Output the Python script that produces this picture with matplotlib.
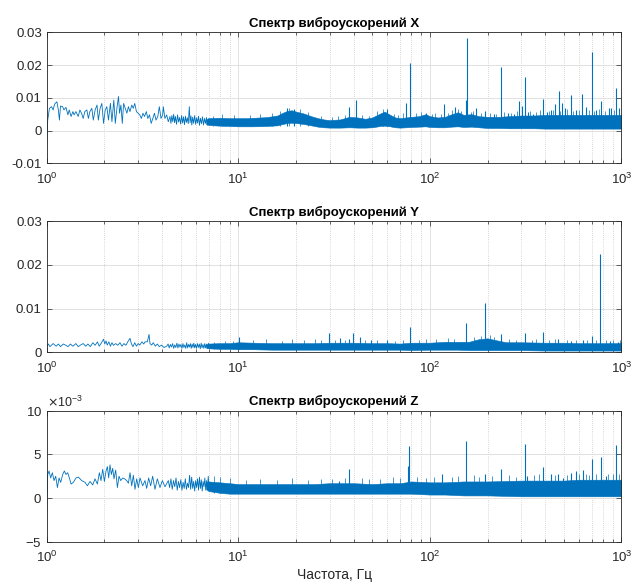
import numpy as np
import matplotlib
matplotlib.use('Agg')
import matplotlib.pyplot as plt
from matplotlib.ticker import LogLocator, FuncFormatter, NullFormatter, ScalarFormatter, FixedLocator

plt.rcParams['font.family'] = ['Liberation Sans', 'DejaVu Sans']
plt.rcParams['axes.unicode_minus'] = False

# все амплитуды в единицах 1e-3
# ---- канал X ----
x_lf_f = [1.000, 1.012, 1.033, 1.06, 1.08, 1.10, 1.13, 1.15, 1.165, 1.18, 1.21, 1.23, 1.26, 1.29, 1.31,
          1.34, 1.37, 1.39, 1.42, 1.46, 1.49, 1.52, 1.55, 1.58, 1.62, 1.65, 1.68, 1.72, 1.75, 1.79,
          1.83, 1.86, 1.90, 1.94, 1.98, 2.02, 2.06, 2.10, 2.15, 2.19, 2.24, 2.28, 2.33, 2.37, 2.40,
          2.44, 2.48, 2.52, 2.57, 2.62, 2.67, 2.72, 2.78, 2.83, 2.88, 2.94, 3.00, 3.06, 3.12, 3.18,
          3.24, 3.31, 3.37, 3.44, 3.51, 3.58, 3.65, 3.72, 3.80, 3.87, 3.95, 4.03, 4.06, 4.14, 4.23,
          4.31, 4.40, 4.45, 4.50, 4.55, 4.60, 4.65, 4.70, 4.76, 4.82, 4.88, 4.94, 5.00, 5.06, 5.12,
          5.18, 5.24, 5.30, 5.36, 5.42, 5.48, 5.55, 5.60, 5.66, 5.72, 5.78, 5.85, 5.92, 5.99, 6.06,
          6.13, 6.20, 6.27, 6.34, 6.42, 6.50, 6.58, 6.66, 6.74, 6.82, 6.90, 6.98, 7.06]
x_lf_a = [-3.9, 3.2, 6.8, 7.3, 6.3, 8.1, 8.8, 6.3, 3.2, 7.5, 7.3, 6.3, 7.1, 4.8, 6.3,
          4.3, 5.8, 4.8, 5.8, 4.3, 6.3, 5.3, 3.7, 5.8, 6.3, 3.7, 5.8, 6.8, 3.2, 6.3,
          7.8, 3.2, 6.8, 8.3, 2.2, 6.3, 7.3, 3.2, 8.3, 2.7, 9.3, 2.2, 7.3, 10.4, 5.3,
          7.8, 2.2, 8.3, 6.8, 5.3, 7.3, 5.8, 7.8, 6.8, 8.3, 5.8, 5.3, 4.8, 3.7, 5.3,
          4.3, 5.8, 3.7, 4.8, 2.2, 3.7, 5.3, 3.2, 4.3, 7.3, 3.7, 4.8, 7.3, 3.7, 4.8,
          2.7, 4.3, 2.2, 4.6, 2.7, 5.0, 2.4, 4.3, 1.9, 4.8, 2.6, 4.0, 2.0, 4.6, 2.3,
          4.2, 1.8, 4.4, 2.5, 3.9, 2.1, 7.3, 2.4, 4.5, 1.7, 4.1, 2.2, 4.6, 1.9, 3.9,
          2.3, 4.4, 1.6, 3.8, 2.1, 4.2, 1.7, 3.7, 2.2, 4.0, 1.6, 3.6, 2.0]
x_band_f = [6.8, 7, 8, 9, 10, 11, 12, 14, 16, 17, 18, 19, 20, 22, 24, 26, 28, 30,
            34, 38, 42, 46, 50, 55, 58, 62, 66, 70, 75, 80, 88, 95, 100, 110, 120, 130, 140, 150,
            165, 180, 200, 230, 260, 300, 350, 400, 500, 600, 700, 800, 900, 1000]
x_band_lo = [2.0, 1.7, 1.5, 1.4, 1.3, 1.3, 1.3, 1.4, 1.6, 2.0, 2.3, 2.4, 2.3, 2.0,
             1.6, 1.2, 1.0, 0.9, 0.9, 1.0, 0.9, 0.9, 1.0, 1.4, 1.5, 1.3, 1.0, 0.9, 1.0, 1.1, 1.2, 1.3,
             1.1, 1.0, 1.0, 1.2, 1.3, 1.1, 1.2, 1.0, 0.8, 0.8, 0.7, 0.7, 0.7, 0.6, 0.6, 0.6, 0.6, 0.6,
             0.6, 0.6]
x_band_hi = [3.4, 3.8, 3.9, 3.8, 3.8, 3.8, 3.9, 4.1, 4.6, 5.4, 6.0, 6.2, 5.8, 5.2,
             4.4, 3.8, 3.4, 3.2, 3.4, 4.2, 4.0, 3.6, 4.0, 5.2, 5.8, 4.8, 4.0, 3.8, 4.0, 4.2, 4.4, 5.0,
             4.4, 4.0, 4.2, 5.0, 5.6, 4.8, 5.0, 4.4, 4.2, 4.2, 4.4, 4.6, 4.6, 4.8, 4.8, 4.8, 4.8, 4.8,
             4.8, 4.8]
x_pk_f = [17.9, 19.5, 37.8, 41.1, 59.4, 75.5, 78.3, 96, 119, 136, 155, 157, 175, 194, 215, 234,
          257, 274, 293, 304, 313, 325, 347, 389, 409, 429, 452, 470, 490, 508, 548, 582, 625, 656,
          705, 740, 785, 860, 886, 940, 970]
x_pk_a = [6.8, 6.5, 7.2, 9.3, 6.6, 8.4, 20.7, 5.3, 8.1, 7.2, 9.3, 28.2, 6.9, 6.0, 5.0, 19.3,
          5.3, 5.0, 9.1, 7.6, 16.3, 5.7, 5.0, 9.6, 5.8, 6.3, 8.0, 12.1, 8.5, 6.8, 10.9, 6.3, 11.2, 7.3,
          23.9, 6.3, 9.1, 6.8, 6.8, 12.9, 6.8]
x_fine_f = [7.4, 8.2, 9.5, 11.5, 13, 15, 16.5, 18.5, 21, 23, 27, 31, 33, 36, 44, 48, 53, 57, 65, 68,
            72, 85, 90, 102, 107, 114, 125, 131, 140, 145, 163, 168, 185, 205, 222, 245, 265, 284,
            335, 360, 375, 420, 440, 480, 520, 560, 600, 680, 720, 760, 820, 910, 990]
x_fine_a = [4.4, 5.0, 4.8, 4.9, 5.2, 5.4, 6.0, 6.9, 6.6, 5.8, 4.4, 4.2, 4.6, 4.9, 4.8, 4.6, 6.0, 6.5,
            5.0, 4.9, 5.4, 5.3, 5.6, 5.2, 5.5, 5.0, 5.5, 6.2, 6.5, 6.0, 5.8, 6.0, 5.5, 5.4, 5.2, 5.6,
            5.4, 6.0, 6.0, 5.6, 6.2, 6.0, 6.4, 6.0, 6.5, 6.0, 6.4, 6.2, 6.0, 6.5, 6.0, 6.3, 6.2]

# ---- канал Y ----
y_lf_f = [1.00, 1.02, 1.04, 1.06, 1.08, 1.12, 1.15, 1.18, 1.22, 1.26, 1.29, 1.33, 1.37, 1.42, 1.46,
          1.50, 1.55, 1.60, 1.64, 1.69, 1.74, 1.79, 1.84, 1.88, 1.92, 1.98, 2.01, 2.04, 2.07, 2.11,
          2.15, 2.19, 2.23, 2.29, 2.35, 2.41, 2.47, 2.53, 2.59, 2.65, 2.72, 2.77, 2.82, 2.88, 2.94,
          3.00, 3.06, 3.14, 3.21, 3.26, 3.35, 3.42, 3.46, 3.53, 3.60, 3.69, 3.78, 3.87, 3.98, 4.09,
          4.23, 4.30, 4.36, 4.42, 4.48, 4.54, 4.60, 4.66, 4.72, 4.78, 4.84, 4.90, 4.96, 5.02, 5.08,
          5.14, 5.20, 5.26, 5.32, 5.38, 5.44, 5.50, 5.56, 5.62, 5.68, 5.74, 5.80, 5.86, 5.92, 5.98,
          6.05, 6.12, 6.19, 6.26, 6.33, 6.40, 6.47, 6.54, 6.61, 6.68, 6.75, 6.82, 6.90, 6.98, 7.06]
y_lf_a = [1.3, 1.9, 1.3, 1.65, 2.0, 1.4, 1.9, 1.3, 1.9, 1.6, 1.3, 1.9, 1.4, 2.0, 1.3,
          1.65, 2.0, 1.4, 1.9, 1.3, 2.2, 1.6, 2.4, 1.4, 2.0, 3.0, 1.9, 2.6, 1.65, 2.4,
          1.4, 2.2, 1.6, 2.0, 1.6, 2.2, 1.4, 2.0, 1.6, 2.4, 3.2, 1.9, 1.3, 2.2, 1.4,
          2.0, 1.65, 2.4, 1.9, 2.4, 2.4, 4.1, 2.0, 1.65, 2.2, 1.4, 1.9, 1.3, 1.65, 1.1,
          1.4, 1.9, 1.0, 1.8, 1.2, 2.0, 0.9, 1.7, 1.1, 2.1, 1.0, 1.9, 1.2, 1.8, 0.9,
          2.0, 1.1, 1.7, 0.9, 2.2, 1.0, 1.8, 1.2, 2.0, 0.9, 1.9, 1.1, 2.1, 1.0, 1.8,
          0.9, 2.0, 1.1, 1.9, 0.8, 2.1, 1.0, 1.8, 0.9, 2.0, 1.0, 1.9, 0.9, 2.1, 1.0]
y_band_f = [6.8, 7, 8, 9, 10, 12, 15, 20, 25, 30, 40, 50, 60, 70, 80, 100, 120, 140, 160, 180,
            200, 220, 250, 300, 400, 500, 600, 700, 800, 900, 1000]
y_band_lo = [1.0, 0.9, 0.8, 0.8, 0.7, 0.7, 0.6, 0.6, 0.6, 0.6, 0.6, 0.6, 0.6, 0.6, 0.5,
             0.6, 0.6, 0.6, 0.5, 0.5, 0.5, 0.5, 0.5, 0.5, 0.4, 0.4, 0.4, 0.4, 0.4, 0.4, 0.4]
y_band_hi = [1.8, 2.0, 2.1, 2.1, 2.3, 2.2, 2.1, 2.1, 2.1, 2.2, 2.2, 2.1, 2.1, 2.0, 2.2,
             2.2, 2.4, 2.4, 2.4, 3.0, 3.2, 2.8, 2.3, 2.3, 2.2, 2.2, 2.1, 2.1, 2.1, 2.1, 2.1]
y_pk_f = [10.1, 29.8, 33.9, 37.9, 39.7, 43.1, 49.5, 59.8, 78.5, 155, 194, 234, 313, 389, 469, 548,
          630, 705, 776, 868, 959]
y_pk_a = [3.5, 4.4, 3.2, 3.0, 4.4, 3.4, 2.9, 2.9, 5.9, 6.7, 11.3, 4.3, 4.5, 4.6, 3.0, 2.6, 2.9,
          3.8, 22.5, 2.6, 2.4]
y_fine_f = [7.5, 8.5, 9.4, 12, 14, 17, 19, 22, 25, 27, 32, 36, 46, 53, 66, 72, 88, 95, 108, 125, 133,
            170, 185, 205, 215, 260, 280, 340, 360, 420, 450, 520, 580, 660, 740, 830, 900, 980]
y_fine_a = [2.4, 2.5, 2.6, 2.8, 3.0, 2.7, 3.0, 2.8, 3.0, 2.9, 2.9, 2.8, 2.9, 2.8, 2.7, 2.9, 2.8, 3.0,
            3.1, 3.2, 3.0, 3.4, 3.8, 3.9, 3.6, 3.0, 2.9, 2.9, 3.0, 2.8, 3.1, 2.9, 2.8, 2.8, 2.9, 2.8,
            2.9, 2.8]

# ---- канал Z ----
z_lf_f = [1.000, 1.012, 1.028, 1.049, 1.070, 1.092, 1.114, 1.137, 1.160, 1.183, 1.212, 1.236, 1.261,
          1.287, 1.313, 1.340, 1.377, 1.422, 1.463, 1.522, 1.585, 1.630, 1.683, 1.738, 1.787, 1.838,
          1.883, 1.920, 1.960, 2.000, 2.040, 2.073, 2.106, 2.140, 2.175, 2.210, 2.245, 2.291, 2.338,
          2.385, 2.433, 2.492, 2.553, 2.614, 2.668, 2.722, 2.777, 2.833, 2.890, 2.949, 3.008, 3.069,
          3.168, 3.258, 3.324, 3.405, 3.488, 3.573, 3.674, 3.779, 3.902, 4.013, 4.143, 4.313,
          4.38, 4.45, 4.52, 4.59, 4.66, 4.73, 4.80, 4.87, 4.94, 5.01, 5.08, 5.15, 5.22, 5.29, 5.36,
          5.43, 5.50, 5.57, 5.64, 5.71, 5.78, 5.85, 5.92, 5.99, 6.06, 6.13, 6.20, 6.27, 6.34, 6.41,
          6.48, 6.55, 6.62, 6.69, 6.76, 6.83, 6.90, 6.97, 7.04]
z_lf_a = [-1.6, 2.7, 3.1, 2.3, 2.9, 2.0, 2.5, 1.2, 2.3, 1.8, 2.7, 3.1, 2.7,
          2.9, 2.3, 1.6, 1.8, 2.3, 2.4, 2.0, 1.8, 1.4, 1.9, 1.5, 2.2, 1.6,
          2.9, 2.0, 3.3, 1.9, 3.1, 3.6, 2.3, 3.8, 2.7, 3.4, 2.2, 3.2, 1.2,
          2.5, 2.0, 2.3, 2.2, 2.0, 1.7, 2.9, 1.4, 2.6, 1.0, 2.2, 1.2, 2.3,
          1.4, 2.0, 1.1, 2.3, 1.4, 2.5, 1.0, 2.2, 1.2, 2.0, 1.3, 2.0,
          1.2, 2.2, 1.0, 2.0, 1.3, 2.3, 0.9, 1.9, 1.2, 2.1, 0.9, 1.8, 1.1, 2.2, 1.0,
          1.7, 1.2, 2.6, 1.0, 2.4, 1.1, 1.9, 0.8, 2.0, 1.2, 2.2, 0.9, 2.4, 1.1, 2.1,
          0.8, 1.9, 1.3, 2.3, 0.9, 2.0, 1.0, 2.5, 1.0]
z_band_f = [6.8, 7, 8, 9, 10, 12, 15, 20, 25, 30, 40, 50, 60, 70, 80, 100, 120, 150, 200, 300,
            400, 500, 600, 700, 800, 900, 1000]
z_band_lo = [1.0, 0.8, 0.6, 0.5, 0.5, 0.5, 0.5, 0.5, 0.5, 0.5, 0.5, 0.5, 0.5, 0.5, 0.5,
             0.4, 0.4, 0.3, 0.3, 0.2, 0.2, 0.2, 0.2, 0.2, 0.2, 0.2, 0.2]
z_band_hi = [1.8, 1.9, 1.8, 1.7, 1.6, 1.6, 1.6, 1.6, 1.6, 1.7, 1.7, 1.6, 1.7, 1.7, 1.9,
             1.8, 1.8, 1.9, 1.9, 2.0, 2.0, 2.0, 2.1, 2.1, 2.1, 2.1, 2.1]
z_pk_f = [33.6, 37.8, 76.5, 78, 116, 155, 194, 234, 313, 322, 389, 429, 469, 495, 548,
          582, 630, 705, 780, 828, 940]
z_pk_a = [2.0, 3.3, 3.7, 6.0, 2.7, 6.5, 2.7, 3.3, 6.2, 2.5, 3.5, 2.8, 2.7, 2.3, 2.9,
          3.1, 3.2, 4.5, 4.7, 2.5, 6.1]
z_fine_f = [7.5, 8, 9, 11, 13, 16, 19, 23, 27, 31, 36, 44, 48, 55, 64, 70, 86, 95, 105, 130, 140,
            170, 180, 210, 260, 280, 350, 370, 450, 520, 600, 650, 680, 740, 850, 900, 970]
z_fine_a = [2.5, 2.4, 2.3, 2.1, 2.2, 2.1, 2.3, 2.1, 2.2, 2.2, 2.3, 2.3, 2.2, 2.2, 2.4, 2.3, 2.4, 2.3,
            2.4, 2.4, 2.5, 2.6, 2.4, 2.5, 2.6, 2.4, 2.6, 2.7, 2.6, 2.6, 2.8, 2.7, 2.6, 2.7, 2.8, 2.7,
            2.8]

titles = ['Спектр виброускорений X', 'Спектр виброускорений Y', 'Спектр виброускорений Z']

kanaly = [
    (x_lf_f, x_lf_a, x_band_f, x_band_lo, x_band_hi, x_pk_f, x_pk_a, x_fine_f, x_fine_a),
    (y_lf_f, y_lf_a, y_band_f, y_band_lo, y_band_hi, y_pk_f, y_pk_a, y_fine_f, y_fine_a),
    (z_lf_f, z_lf_a, z_band_f, z_band_lo, z_band_hi, z_pk_f, z_pk_a, z_fine_f, z_fine_a),
]

ylims = [(-0.01, 0.03), (0, 0.03), (-5e-3, 10e-3)]
yticks = [[-0.01, 0, 0.01, 0.02, 0.03], [0, 0.01, 0.02, 0.03], [-5e-3, 0, 5e-3, 10e-3]]
pk_base = [1.5, 0.8, 0.6]

color = '#0072BD'
txt = '#262626'

fig = plt.figure(figsize=(6.4, 5.86), dpi=100)
bottoms = [0.7213, 0.3988, 0.0756]

for i in range(3):
    ax = fig.add_axes([0.073, bottoms[i], 0.898, 0.2235])
    lf_f, lf_a, bf, blo, bhi, pf, pa, ff, fa = kanaly[i]
    k = 1e-3
    ax.fill_between(bf, np.array(blo) * k, np.array(bhi) * k, color=color, lw=0.4)
    ax.plot(lf_f, np.array(lf_a) * k, color=color, lw=0.6)
    ax.vlines(ff, pk_base[i] * k, np.array(fa) * k, color=color, lw=0.5)
    ax.vlines(pf, pk_base[i] * k, np.array(pa) * k, color=color, lw=0.8)

    ax.set_xscale('log')
    ax.set_xlim(1, 1000)
    ax.set_ylim(*ylims[i])
    ax.yaxis.set_major_locator(FixedLocator(yticks[i]))
    if i < 2:
        ax.yaxis.set_major_formatter(FuncFormatter(lambda v, p: '%g' % round(v, 4)))
    else:
        sf = ScalarFormatter(useMathText=True)
        sf.set_powerlimits((-3, -3))
        ax.yaxis.set_major_formatter(sf)
        ax.yaxis.get_offset_text().set_fontsize(9)
        ax.yaxis.get_offset_text().set_color(txt)
    ax.xaxis.set_major_locator(LogLocator(base=10, numticks=10))
    ax.xaxis.set_minor_locator(LogLocator(base=10, subs=np.arange(2, 10), numticks=20))
    ax.xaxis.set_minor_formatter(NullFormatter())

    ax.grid(True, which='major', color='#dcdcdc', lw=0.6)
    ax.grid(True, which='minor', axis='x', color='#b4b4b4', lw=0.5, ls=(0, (1, 2)))
    ax.set_axisbelow(True)
    ax.tick_params(which='both', direction='in', top=True, right=True, colors=txt,
                   labelsize=9.5, width=0.5)
    ax.tick_params(which='major', length=3.5)
    ax.tick_params(which='minor', length=2)
    ax.tick_params(axis='x', which='major', pad=6)
    for s in ax.spines.values():
        s.set_color(txt)
        s.set_linewidth(0.6)
    ax.set_title(titles[i], fontsize=9.5, fontweight='bold', color='black', pad=4)
    if i == 2:
        ax.set_xlabel('Частота, Гц', fontsize=10, color=txt, labelpad=2)

fig.savefig('out.png', dpi=100)
